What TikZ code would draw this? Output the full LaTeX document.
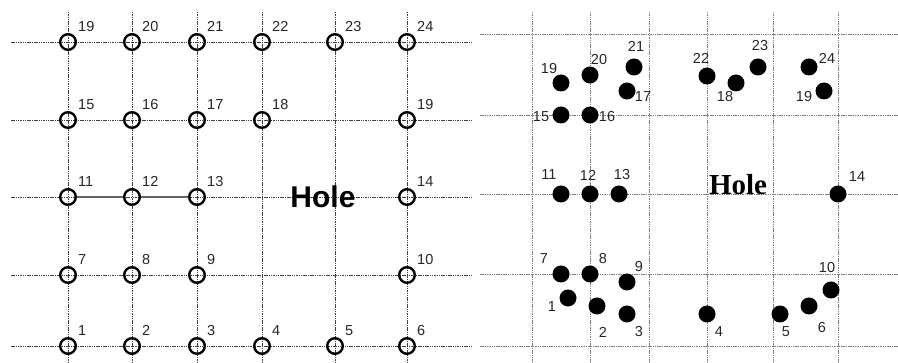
\documentclass[tikz,border=0pt]{standalone}
\usepackage{fontspec}
\setmainfont{Liberation Sans}
\newfontfamily\holeserif{Liberation Serif}
\tikzset{
  gridline/.style={dash pattern=on 1.5pt off 0.8pt, line width=0.7pt, black!75},
  gridlight/.style={gridline, black!50},
  ring/.style={circle, draw, line width=2.4pt, minimum size=15.6pt, inner sep=0pt},
  blob/.style={circle, fill, minimum size=17pt, inner sep=0pt},
  num/.style={font=\fontsize{14.5}{14.5}\selectfont, text=black!85, inner sep=0pt},
}
\begin{document}
\begin{tikzpicture}[x=1pt,y=-1pt]
  \useasboundingbox (0,0) rectangle (898,363);
  % left panel: planned grid
  \foreach \x in {68,132,197,262,335,407} \draw [gridline] (\x,12) -- (\x,363);
  \foreach \y in {42,120,197,275,346} \draw [gridline] (11,\y) -- (472,\y);
  \foreach \k/\x/\y/\n in {1/68/346/1,2/132/346/2,3/197/346/3,4/262/346/4,5/335/346/5,6/407/346/6,
      7/68/275/7,8/132/275/8,9/197/275/9,10/407/275/10,
      11/68/197/11,12/132/197/12,13/197/197/13,14/407/197/14,
      15/68/120/15,16/132/120/16,17/197/120/17,18/262/120/18,19r/407/120/19,
      19/68/42/19,20/132/42/20,21/197/42/21,22/262/42/22,23/335/42/23,24/407/42/24}
  {
    \node [ring] (L\k) at (\x,\y) {};
    \node [num, anchor=south west] (L\k t) at ([shift={(10pt,10pt)}]L\k.center) {\n};
  }
  \draw [line width=2pt, black!60] (L11) -- (L12) -- (L13);
  \node [font=\bfseries\fontsize{30}{30}\selectfont] (holeL) at (323,197) {Hole};
  % right panel: measured positions
  \foreach \x in {532,590,649,707,773,838} \draw [gridlight] (\x,12) -- (\x,363);
  \foreach \y in {34,115,194,274,346} \draw [gridlight] (480,\y) -- (898,\y);
  \foreach \k/\x/\y/\lx/\ly/\n in {19/561/83/549/69/19,20/590/75/599/60/20,21/634/67/636/46/21,
      17/627/91/643/97/17,15/561/115/541/117/15,16/590/115/607/117/16,
      22/707/76/701/58/22,18/736/83/725/97/18,23/758/67/760/46/23,
      24/809/67/827/58/24,19r/824/91/804/97/19,
      11/561/194/549/175/11,12/590/194/588/175/12,13/619/194/622/175/13,14/838/194/857/177/14,
      7/561/274/544/259/7,8/590/274/603/259/8,9/627/282/639/267/9,
      1/568/298/552/307/1,2/597/306/603/332/2,3/627/314/639/332/3,
      4/707/314/719/332/4,5/780/314/786/332/5,6/809/306/822/328/6,10/831/290/827/268/10}
  {
    \node [blob] (R\k) at (\x,\y) {};
    \node [num] (R\k t) at (\lx,\ly) {\n};
  }
  \node [font=\holeserif\bfseries\fontsize{29}{29}\selectfont] (holeR) at (738,185) {Hole};
\end{tikzpicture}
\end{document}
